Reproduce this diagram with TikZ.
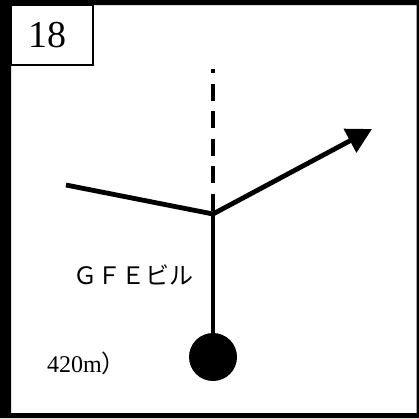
\documentclass[tikz,border=0pt]{standalone}
\usepackage{fontspec}
\setmainfont{Liberation Serif}
\newfontfamily\cjk{Noto Sans CJK JP}
\usetikzlibrary{arrows.meta}
\begin{document}
\begin{tikzpicture}[x=1pt,y=-1pt,
  road/.style={line width=4.8pt},
  lbl/.style={inner sep=0pt,anchor=west}]
\useasboundingbox (0,0) rectangle (419,418);
\fill[white] (0,0) rectangle (419,418);
\fill[black,even odd rule] (0,0) rectangle (419,418) (11,5) rectangle (416.5,413);
\draw[line width=2pt] (11,5) rectangle (92.5,65);
\coordinate (boxc) at (47.5,35.5);
\node[inner sep=0pt,font=\fontsize{38}{38}\selectfont] (num) at (boxc) {18};
\coordinate (j) at (213,214);
\coordinate (top) at (213,69);
\coordinate (left) at (66,185);
\coordinate (arr) at (372,129);
\node[circle,fill=black,minimum size=48pt,inner sep=0pt] (dot) at (213,357) {};
\draw[road,dash pattern=on 17pt off 10.5pt,dash phase=13pt] (top) -- (j);
\draw[road] (left) -- (j);
\draw[road,-{Triangle[length=25pt,width=26pt]}] (j) -- (arr);
\draw[road] (j) -- (dot.center);
\node[lbl] (gfe) at (73,275) {\cjk\fontsize{24}{24}\selectfont ＧＦＥビル};
\node[lbl,font=\fontsize{24}{24}\selectfont] (dist) at (47,363) {420m\cjk）};
\end{tikzpicture}
\end{document}
